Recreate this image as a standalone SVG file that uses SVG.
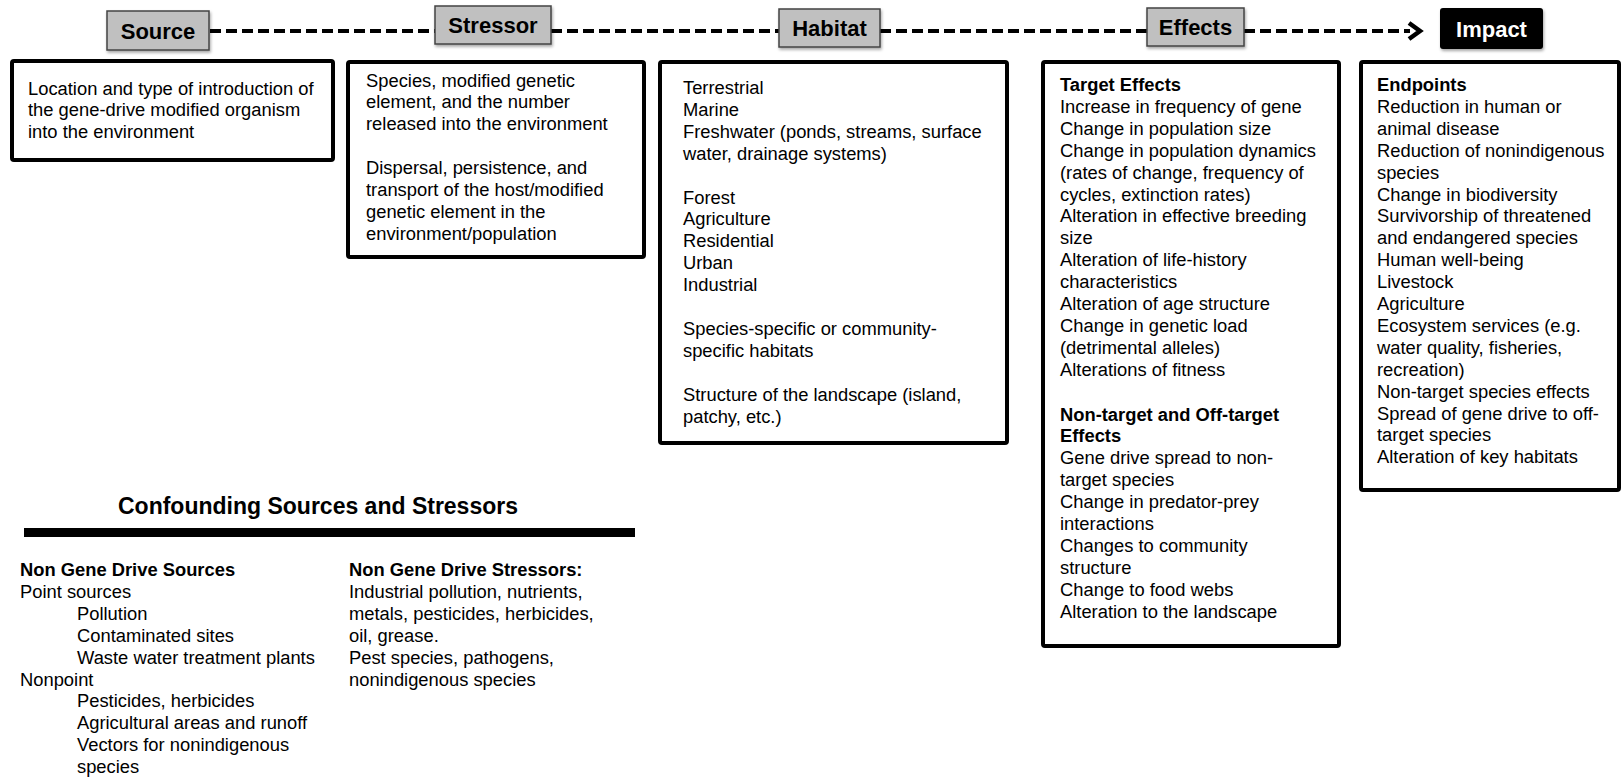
<svg xmlns="http://www.w3.org/2000/svg" width="1624" height="779" viewBox="0 0 1624 779">
<style>
  text { font-family: "Liberation Sans", Arial, sans-serif; fill: #000; }
  .body { font-size: 18.35px; }
  .b { font-weight: bold; }
  .lbl { font-size: 22px; font-weight: bold; text-anchor: middle; }
  .lblbox { fill: #c0c0c0; stroke: #444; stroke-width: 1.5; }
  .desc { fill: #fff; stroke: #000; stroke-width: 4; }
  .dash { stroke: #000; stroke-width: 4; stroke-dasharray: 11 5; fill: none; }
</style>
<defs>
  <filter id="sh" x="-10%" y="-10%" width="130%" height="140%">
    <feDropShadow dx="1" dy="2" stdDeviation="1.5" flood-color="#000" flood-opacity="0.35"/>
  </filter>
</defs>
<rect width="1624" height="779" fill="#fff"/>

<g id="connectors">
  <line class="dash" x1="210" y1="31" x2="435" y2="31"/>
  <line class="dash" x1="551" y1="31" x2="779" y2="31"/>
  <line class="dash" x1="880" y1="31" x2="1147" y2="31"/>
  <line class="dash" x1="1244" y1="31" x2="1410" y2="31"/>
  <polyline points="1409,23 1420,31 1409,39" fill="none" stroke="#000" stroke-width="4.5"/>
</g>

<g id="source">
  <rect class="lblbox" x="107" y="11" width="102" height="39" filter="url(#sh)"/>
  <text class="lbl" x="158" y="39">Source</text>
</g>
<g id="stressor">
  <rect class="lblbox" x="435" y="6" width="116" height="38" filter="url(#sh)"/>
  <text class="lbl" x="493" y="33">Stressor</text>
</g>
<g id="habitat">
  <rect class="lblbox" x="779" y="9" width="101" height="38" filter="url(#sh)"/>
  <text class="lbl" x="829.5" y="36">Habitat</text>
</g>
<g id="effects">
  <rect class="lblbox" x="1147" y="8" width="97" height="38" filter="url(#sh)"/>
  <text class="lbl" x="1195.5" y="35">Effects</text>
</g>
<g id="impact">
  <rect x="1440" y="8" width="103" height="41" rx="3" fill="#000" filter="url(#sh)"/>
  <text class="lbl" x="1491.5" y="37" style="fill:#fff">Impact</text>
</g>

<g id="source-details">
  <rect class="desc" x="12" y="61" width="321" height="99" rx="2"/>
  <text class="body">
    <tspan x="28" y="94.5">Location and type of introduction of</tspan>
    <tspan x="28" y="116.4">the gene-drive modified organism</tspan>
    <tspan x="28" y="138.3">into the environment</tspan>
  </text>
</g>

<g id="stressor-details">
  <rect class="desc" x="348" y="62" width="296" height="195" rx="2"/>
  <text class="body">
    <tspan x="366" y="86.5">Species, modified genetic</tspan>
    <tspan x="366" y="108.4">element, and the number</tspan>
    <tspan x="366" y="130.3">released into the environment</tspan>
    <tspan x="366" y="174.1">Dispersal, persistence, and</tspan>
    <tspan x="366" y="196">transport of the host/modified</tspan>
    <tspan x="366" y="217.9">genetic element in the</tspan>
    <tspan x="366" y="239.8">environment/population</tspan>
  </text>
</g>

<g id="habitat-details">
  <rect class="desc" x="660" y="62" width="347" height="381" rx="2"/>
  <text class="body">
    <tspan x="683" y="94">Terrestrial</tspan>
    <tspan x="683" y="115.9">Marine</tspan>
    <tspan x="683" y="137.8">Freshwater (ponds, streams, surface</tspan>
    <tspan x="683" y="159.7">water, drainage systems)</tspan>
    <tspan x="683" y="203.5">Forest</tspan>
    <tspan x="683" y="225.4">Agriculture</tspan>
    <tspan x="683" y="247.3">Residential</tspan>
    <tspan x="683" y="269.2">Urban</tspan>
    <tspan x="683" y="291.1">Industrial</tspan>
    <tspan x="683" y="334.9">Species-specific or community-</tspan>
    <tspan x="683" y="356.8">specific habitats</tspan>
    <tspan x="683" y="400.6">Structure of the landscape (island,</tspan>
    <tspan x="683" y="422.5">patchy, etc.)</tspan>
  </text>
</g>

<g id="effects-details">
  <rect class="desc" x="1043" y="62" width="296" height="584" rx="2"/>
  <text class="body">
    <tspan x="1060" y="91" class="b">Target Effects</tspan>
    <tspan x="1060" y="112.9">Increase in frequency of gene</tspan>
    <tspan x="1060" y="134.8">Change in population size</tspan>
    <tspan x="1060" y="156.7">Change in population dynamics</tspan>
    <tspan x="1060" y="178.6">(rates of change, frequency of</tspan>
    <tspan x="1060" y="200.5">cycles, extinction rates)</tspan>
    <tspan x="1060" y="222.4">Alteration in effective breeding</tspan>
    <tspan x="1060" y="244.3">size</tspan>
    <tspan x="1060" y="266.2">Alteration of life-history</tspan>
    <tspan x="1060" y="288.1">characteristics</tspan>
    <tspan x="1060" y="310">Alteration of age structure</tspan>
    <tspan x="1060" y="331.9">Change in genetic load</tspan>
    <tspan x="1060" y="353.8">(detrimental alleles)</tspan>
    <tspan x="1060" y="375.7">Alterations of fitness</tspan>
    <tspan x="1060" y="420.5" class="b">Non-target and Off-target</tspan>
    <tspan x="1060" y="442.4" class="b">Effects</tspan>
    <tspan x="1060" y="464.3">Gene drive spread to non-</tspan>
    <tspan x="1060" y="486.2">target species</tspan>
    <tspan x="1060" y="508.1">Change in predator-prey</tspan>
    <tspan x="1060" y="530">interactions</tspan>
    <tspan x="1060" y="551.9">Changes to community</tspan>
    <tspan x="1060" y="573.8">structure</tspan>
    <tspan x="1060" y="595.7">Change to food webs</tspan>
    <tspan x="1060" y="617.6">Alteration to the landscape</tspan>
  </text>
</g>

<g id="impact-details">
  <rect class="desc" x="1361" y="62" width="258" height="428" rx="2"/>
  <text class="body">
    <tspan x="1377" y="91" class="b">Endpoints</tspan>
    <tspan x="1377" y="112.9">Reduction in human or</tspan>
    <tspan x="1377" y="134.8">animal disease</tspan>
    <tspan x="1377" y="156.7">Reduction of nonindigenous</tspan>
    <tspan x="1377" y="178.6">species</tspan>
    <tspan x="1377" y="200.5">Change in biodiversity</tspan>
    <tspan x="1377" y="222.4">Survivorship of threatened</tspan>
    <tspan x="1377" y="244.3">and endangered species</tspan>
    <tspan x="1377" y="266.2">Human well-being</tspan>
    <tspan x="1377" y="288.1">Livestock</tspan>
    <tspan x="1377" y="310">Agriculture</tspan>
    <tspan x="1377" y="331.9">Ecosystem services (e.g.</tspan>
    <tspan x="1377" y="353.8">water quality, fisheries,</tspan>
    <tspan x="1377" y="375.7">recreation)</tspan>
    <tspan x="1377" y="397.6">Non-target species effects</tspan>
    <tspan x="1377" y="419.5">Spread of gene drive to off-</tspan>
    <tspan x="1377" y="441.4">target species</tspan>
    <tspan x="1377" y="463.3">Alteration of key habitats</tspan>
  </text>
</g>

<g id="confounding">
  <text x="318" y="514" style="font-size:23px;font-weight:bold;text-anchor:middle">Confounding Sources and Stressors</text>
  <rect x="24" y="528" width="611" height="9" fill="#000"/>
  <text class="body">
    <tspan x="20" y="576" class="b">Non Gene Drive Sources</tspan>
    <tspan x="20" y="597.9">Point sources</tspan>
    <tspan x="77" y="619.8">Pollution</tspan>
    <tspan x="77" y="641.7">Contaminated sites</tspan>
    <tspan x="77" y="663.6">Waste water treatment plants</tspan>
    <tspan x="20" y="685.5">Nonpoint</tspan>
    <tspan x="77" y="707.4">Pesticides, herbicides</tspan>
    <tspan x="77" y="729.3">Agricultural areas and runoff</tspan>
    <tspan x="77" y="751.2">Vectors for nonindigenous</tspan>
    <tspan x="77" y="773.1">species</tspan>
  </text>
  <text class="body">
    <tspan x="349" y="576" class="b">Non Gene Drive Stressors:</tspan>
    <tspan x="349" y="597.9">Industrial pollution, nutrients,</tspan>
    <tspan x="349" y="619.8">metals, pesticides, herbicides,</tspan>
    <tspan x="349" y="641.7">oil, grease.</tspan>
    <tspan x="349" y="663.6">Pest species, pathogens,</tspan>
    <tspan x="349" y="685.5">nonindigenous species</tspan>
  </text>
</g>
</svg>
